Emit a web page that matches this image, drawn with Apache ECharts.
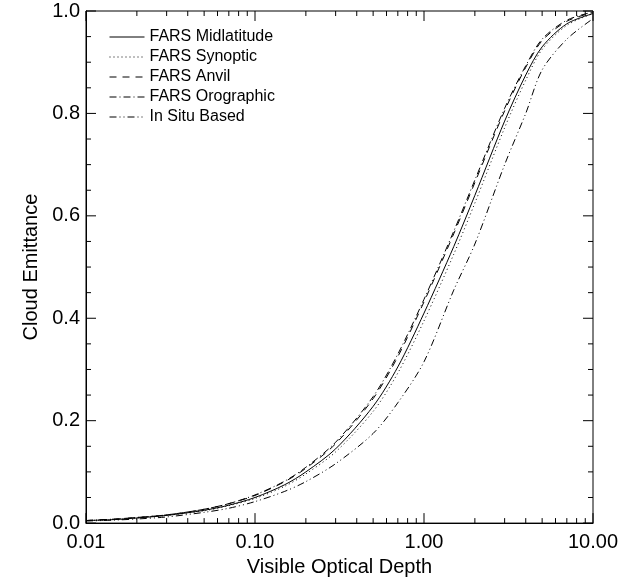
<!DOCTYPE html>
<html>
<head>
<meta charset="utf-8">
<script src="https://cdn.jsdelivr.net/npm/echarts@6/dist/echarts.min.js"></script>
<style>html,body{margin:0;padding:0;background:#fff}#c{width:632px;height:582px}</style>
</head>
<body>
<div id="c"></div>
<script>
var tau = [0.01,0.015,0.02,0.03,0.05,0.07,0.1,0.15,0.2,0.3,0.5,0.7,1,1.5,2,3,4,5,7,10];
var midlatitude = [0.005,0.007,0.010,0.015,0.025,0.035,0.050,0.075,0.100,0.145,0.228,0.305,0.41,0.54,0.64,0.785,0.875,0.93,0.975,0.995];
var synoptic    = [0.005,0.007,0.010,0.015,0.024,0.034,0.048,0.072,0.096,0.139,0.218,0.293,0.395,0.525,0.625,0.772,0.865,0.925,0.972,0.995];
var anvil       = [0.005,0.008,0.011,0.016,0.027,0.038,0.054,0.081,0.107,0.155,0.243,0.325,0.432,0.565,0.665,0.805,0.89,0.942,0.98,0.997];
var orographic  = [0.005,0.008,0.011,0.016,0.027,0.038,0.055,0.082,0.109,0.158,0.247,0.33,0.437,0.57,0.67,0.81,0.893,0.945,0.982,0.998];
var inSitu      = [0.004,0.006,0.008,0.012,0.021,0.029,0.042,0.062,0.081,0.116,0.175,0.235,0.315,0.455,0.545,0.70,0.80,0.885,0.945,0.985];
var seriesNames = ['FARS Midlatitude','FARS Synoptic','FARS Anvil','FARS Orographic','In Situ Based'];
var xTitle = 'Visible Optical Depth';
var yTitle = 'Cloud Emittance';
var xMajorTicks = [0.01, 0.1, 1, 10];
var xMinorMultipliers = [2,3,4,5,6,7,8,9];
var yMajorTicks = [0, 0.2, 0.4, 0.6, 0.8, 1.0];
var yMinorStep = 0.05;

var font = 'Liberation Sans, Arial, Helvetica, sans-serif';
var styles = ['solid', [1,3], [7,6], [7,3,1,3], [7,3,1,3,1,3]];
var values = [midlatitude, synoptic, anvil, orographic, inSitu];
// x axis is linear in log10(optical depth): a log scale drawn through the value axis
function zip(v){ return tau.map(function(t,i){ return [Math.log10(t), v[i]]; }); }
var XMIN = Math.log10(xMajorTicks[0]), XMAX = Math.log10(xMajorTicks[xMajorTicks.length-1]);

var series = values.map(function(v,i){
  return {
    name: seriesNames[i], type:'line', data: zip(v), smooth: 0.3,
    symbol:'none', showSymbol:false, xAxisIndex:0, yAxisIndex:0,
    lineStyle:{color:'#000', width:1, type: styles[i]},
    itemStyle:{color:'#000'}
  };
});

// tick marks (axis decoration), positioned through the axis scales
// item: [x, y, len]; len > 0: y tick at y, len < 0: x tick at x
var MAJ = 10, MIN = 5;
var tickData = [];
for (var k = 0; k <= Math.round(1/yMinorStep); k++) {
  var v = +(k*yMinorStep).toFixed(2);
  var major = yMajorTicks.some(function(m){ return Math.abs(m - v) < 1e-9; });
  tickData.push([XMIN, v, major ? MAJ : MIN]);
}
xMajorTicks.forEach(function(t, i){
  tickData.push([Math.log10(t), 0, -MAJ]);
  if (i < xMajorTicks.length - 1) xMinorMultipliers.forEach(function(m){ tickData.push([Math.log10(t*m), 0, -MIN]); });
});
var tickStyle = {stroke:'#000', lineWidth:1};
series.push({
  type:'custom', name:'ticks', silent:true, z:5, clip:false,
  data: tickData, encode:{x:0, y:1},
  renderItem:function(params, api){
    var x = api.value(0), y = api.value(1), len = api.value(2);
    if (len < 0) {
      var L = -len;
      var b = api.coord([x, 0]), t = api.coord([x, 1]);
      return {type:'group', children:[
        {type:'line', shape:{x1:b[0], y1:b[1], x2:b[0], y2:b[1]-L}, style:tickStyle},
        {type:'line', shape:{x1:t[0], y1:t[1], x2:t[0], y2:t[1]+L}, style:tickStyle}
      ]};
    }
    var l = api.coord([XMIN, y]), r = api.coord([XMAX, y]);
    return {type:'group', children:[
      {type:'line', shape:{x1:l[0], y1:l[1], x2:l[0]+len, y2:l[1]}, style:tickStyle},
      {type:'line', shape:{x1:r[0], y1:r[1], x2:r[0]-len, y2:r[1]}, style:tickStyle}
    ]};
  }
});

var chart = echarts.init(document.getElementById('c'), null, {renderer:'canvas'});
chart.setOption({
  animation:false,
  backgroundColor:'#fff',
  grid:{left:86, right:39, top:11, bottom:57, containLabel:false, show:true, borderColor:'#000', borderWidth:1, backgroundColor:'transparent'},
  legend:{
    show:true,
    data: seriesNames, orient:'vertical', left:104, top:24,
    itemWidth:35, itemHeight:14, itemGap:4,
    itemStyle:{color:'rgba(0,0,0,0)', borderColor:'rgba(0,0,0,0)', borderWidth:0},
    lineStyle:{color:'#000', width:1, opacity:1},
    textStyle:{fontSize:16, color:'#000', fontFamily:font}
  },
  xAxis:[{
    type:'value', min:XMIN, max:XMAX, interval:1, position:'bottom',
    name:xTitle, nameLocation:'middle', nameGap:31,
    nameTextStyle:{fontSize:20, color:'#000', fontFamily:font},
    axisLine:{show:true, onZero:false, lineStyle:{color:'#000', width:1}},
    axisTick:{show:false}, minorTick:{show:false},
    splitLine:{show:false},
    axisLabel:{show:true, margin:9, fontSize:20, color:'#000', fontFamily:font,
      formatter:function(v){ return Math.pow(10, v).toFixed(2); }}
  }],
  yAxis:[{
    type:'value', min:0, max:1, interval:0.2, position:'left',
    name:yTitle, nameLocation:'middle', nameGap:42,
    nameTextStyle:{fontSize:20, color:'#000', fontFamily:font},
    axisLine:{show:true, onZero:false, lineStyle:{color:'#000', width:1}},
    axisTick:{show:false}, minorTick:{show:false},
    splitLine:{show:false},
    axisLabel:{show:true, margin:6, fontSize:20, color:'#000', fontFamily:font,
      formatter:function(v){ return Number(v).toFixed(1); }}
  }],
  series: series
});
</script>
</body>
</html>
